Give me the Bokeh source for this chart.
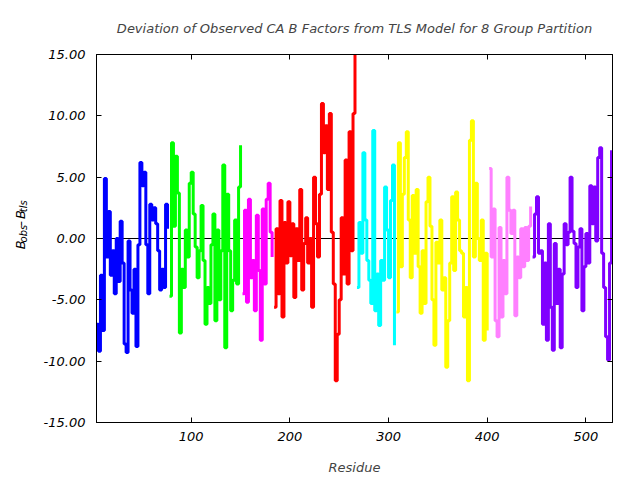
import math
from bokeh.plotting import figure
from bokeh.layouts import row
from bokeh.core.properties import value
from bokeh.models import Range1d, LinearAxis, PrintfTickFormatter, Span, FixedTicker
from bokeh.embed import file_html
from bokeh.resources import INLINE

# ---- data: B_obs - B_tls per residue (every 2nd residue), one list per TLS group ----
res_blue = list(range(4, 77, 2))
val_blue = [-7.0, -9.2, -3.0, -7.5, 4.9, -1.5, 2.2, -3.0, -1.0, -4.5, 0.0, -3.5, 1.4,
            -2.0, -8.6, -9.3, -0.2, -4.2, -6.1, -2.5, -8.8, -0.5, 6.2, 4.3, 5.4, -0.5,
            -4.5, 2.8, 1.5, 2.5, 1.2, -1.0, -4.2, -2.5, -4.0, 2.8, 0.8]

res_green = list(range(78, 151, 2))
val_green = [-4.7, 7.8, 1.0, 6.7, 3.7, -7.7, -2.5, -4.0, 0.7, -1.5, 4.5, 5.4, 2.0,
             -0.7, -3.2, -1.0, 2.7, -1.8, -7.0, -4.0, -5.3, -0.5, 2.0, -6.7, 0.7, -5.0,
             -1.0, 6.0, -8.9, 3.6, -1.0, -5.9, -3.4, 1.5, -3.7, 4.2, 7.6]

res_magenta = list(range(152, 183, 2))
val_magenta = [-4.5, 2.3, -5.2, 3.2, -3.2, -1.8, -5.9, 1.9, -2.6, -8.3, 2.4, -3.7,
               3.2, 4.5, 0.5, -1.5]

res_red = list(range(184, 267, 2))
val_red = [-5.6, 0.8, -4.5, 3.1, -6.4, 1.3, -2.0, 3.0, -1.4, 1.2, -4.8, 0.8, -1.8,
           4.0, -4.2, -0.4, 1.7, -2.0, 0.0, -5.6, 5.0, 1.2, -1.5, 3.6, 11.0, 7.0,
           9.2, 4.0, 10.2, 0.5, -3.7, -11.6, -7.8, -5.0, 1.7, -2.9, 6.4, -3.7, 8.7,
           -1.0, 10.2, 15.0]

res_cyan = list(range(268, 307, 2))
val_cyan = [-4.0, 1.3, -1.2, 7.0, 1.5, -1.8, -3.4, -5.3, 8.8, -5.9, -2.9, -7.1,
            -1.8, -3.4, 4.2, 0.7, -3.2, 3.1, 6.0, -8.7]

res_yellow = list(range(308, 401, 2))
val_yellow = [-6.0, 7.8, -2.3, 3.6, 6.6, 8.7, 1.5, -3.2, 3.5, -1.2, 4.0, -2.3, -6.1,
              -1.0, -5.3, 3.0, 5.0, 1.0, -5.0, -8.7, -0.3, -2.0, 1.5, -4.2, -3.2,
              -10.5, -6.7, -2.0, 3.4, -2.6, 3.8, 1.5, -1.0, -1.2, -6.4, -4.0, -11.6,
              8.0, 9.6, -1.5, 4.5, 0.0, -1.8, 1.5, -8.3, -1.2, -7.5]

res_pink = list(range(402, 445, 2))
val_pink = [5.7, -1.5, 2.4, -6.7, -8.0, 0.9, -6.4, -1.8, -4.5, 5.0, 2.3, 0.4, 2.3,
            -6.3, -1.5, -3.2, 0.8, -2.3, 0.9, -1.8, 1.0, 2.6]

res_purple = list(range(446, 527, 2))
val_purple = [-1.5, 2.0, 3.4, -1.2, -1.0, -7.0, -2.0, -8.3, 1.2, -5.6, -9.1, -0.4,
              -5.3, -2.5, -8.9, -2.9, 1.2, -0.5, 0.5, 5.0, 0.6, -0.4, -4.0, -0.7,
              0.8, -5.9, -2.3, 0.4, -2.0, 4.3, 1.2, 4.2, -0.2, 6.6, 7.4, -1.2, -4.0,
              -8.0, -9.9, -2.0, 7.2]

groups = [
    (res_blue, val_blue, "#0000FF"),
    (res_green, val_green, "#00FF00"),
    (res_magenta, val_magenta, "#FF00FF"),
    (res_red, val_red, "#FF0000"),
    (res_cyan, val_cyan, "#00FFFF"),
    (res_yellow, val_yellow, "#FFFF00"),
    (res_pink, val_pink, "#FF80FF"),
    (res_purple, val_purple, "#8000FF"),
]

x_ticks = [100, 200, 300, 400, 500]
y_ticks = [-15, -10, -5, 0, 5, 10, 15]

FONT = "DejaVu Sans"
FS = "13px"
SIDE_W = 40

# ---- narrow strip on the left holding the rotated y-axis label ----
side = figure(width=SIDE_W, height=480, output_backend="svg", toolbar_location=None,
              x_range=Range1d(0, SIDE_W), y_range=Range1d(0, 480),
              min_border=0, outline_line_color=None)
side.axis.visible = False
side.grid.visible = False
side.border_fill_color = "white"
side.background_fill_color = "white"
# label pieces (x, y in strip pixels, measured from bottom)
big_txt, big_x, big_y = ["B", "-", "B"], [20, 20, 20], [226, 256.5, 265.5]
sub_txt, sub_x, sub_y = ["obs", "tls"], [23, 23], [234.9, 274.4]
side.text(x=big_x, y=big_y, text=big_txt, angle=math.pi / 2,
          text_font=value(FONT), text_font_size=value("13px"),
          text_font_style="italic", text_align="left", text_baseline="alphabetic",
          text_color="black")
side.text(x=sub_x, y=sub_y, text=sub_txt, angle=math.pi / 2,
          text_font=value(FONT), text_font_size=value("10px"),
          text_font_style="italic", text_align="left", text_baseline="alphabetic",
          text_color="black")

# ---- main plot ----
p = figure(width=640 - SIDE_W, height=480, output_backend="svg", toolbar_location=None,
           x_range=Range1d(4, 527), y_range=Range1d(-15, 15),
           min_border_left=96 - SIDE_W, min_border_right=28, min_border_top=54,
           min_border_bottom=58,
           title="Deviation of Observed CA B Factors from TLS Model for 8 Group Partition")

p.title.text_font = FONT
p.title.text_font_size = FS
p.title.text_font_style = "italic"
p.title.align = "center"
p.title.standoff = 37

p.grid.visible = False
p.outline_line_color = "black"
p.outline_line_width = 1
p.background_fill_color = "white"
p.border_fill_color = "white"

p.xaxis.ticker = FixedTicker(ticks=x_ticks)
p.yaxis.ticker = FixedTicker(ticks=y_ticks)
p.yaxis.formatter = PrintfTickFormatter(format="%.2f")
for ax in (p.xaxis[0], p.yaxis[0]):
    ax.major_tick_in = 5
    ax.major_tick_out = 0
    ax.minor_tick_line_color = None
    ax.axis_line_color = "black"
    ax.major_label_text_font = FONT
    ax.major_label_text_font_size = FS
    ax.major_label_text_font_style = "italic"
    ax.major_label_text_color = "black"
p.xaxis.major_label_standoff = 9
p.yaxis.major_label_standoff = 11
p.xaxis.axis_label = "Residue"
p.xaxis.axis_label_text_font = FONT
p.xaxis.axis_label_text_font_size = FS
p.xaxis.axis_label_text_font_style = "italic"
p.xaxis.axis_label_standoff = 16

# mirrored ticks on right and top (labels not drawn)
rax = LinearAxis(ticker=FixedTicker(ticks=y_ticks), major_tick_in=5, major_tick_out=0,
                 minor_tick_line_color=None, major_label_text_color=None,
                 major_label_standoff=0, axis_line_color="black")
tax = LinearAxis(ticker=FixedTicker(ticks=x_ticks), major_tick_in=5, major_tick_out=0,
                 minor_tick_line_color=None, major_label_text_color=None,
                 major_label_standoff=0, axis_line_color="black")
p.add_layout(rax, "right")
p.add_layout(tax, "above")

p.add_layout(Span(location=0, dimension="width", line_color="black", line_width=1,
                  level="underlay"))

for xs, ys, c in groups:
    p.step(xs, ys, mode="after", line_color=c, line_width=3)

layout = row(side, p, spacing=0)
open("out.html", "w").write(file_html(layout, INLINE))
